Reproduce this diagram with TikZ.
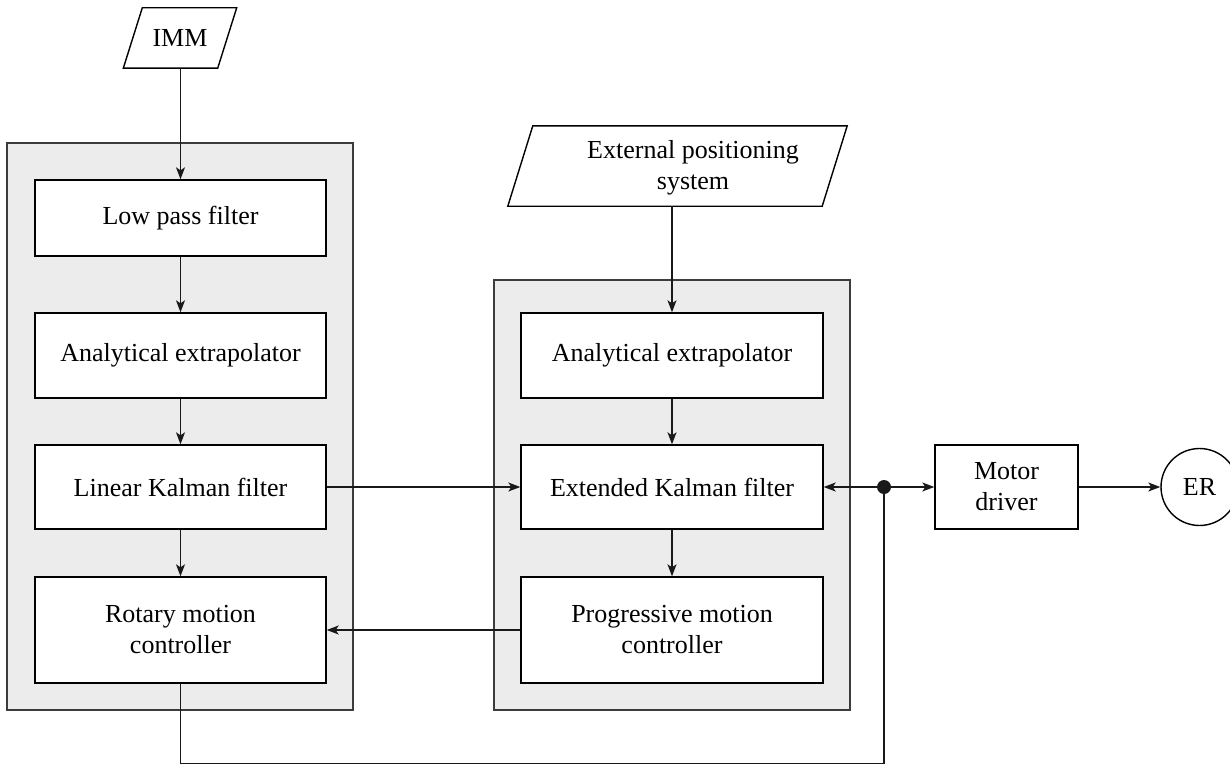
\documentclass[tikz,border=0pt]{standalone}
\usepackage{fontspec}
\setmainfont{Liberation Serif}
\usetikzlibrary{arrows.meta,calc}
\definecolor{panelfill}{HTML}{EBECEB}
\definecolor{paneldraw}{HTML}{3C3C3C}
\begin{document}
\begin{tikzpicture}[x=1pt,y=-1pt,
  every node/.style={font=\fontsize{26}{31}\selectfont},
  panel/.style={draw=paneldraw, fill=panelfill, line width=1.6pt, inner sep=0pt},
  blk/.style={draw=black, fill=white, line width=1.4pt, align=center, inner sep=0pt},
  io/.style={inner sep=0pt, align=center},
  conn/.style={line width=1.3pt, draw=black!90},
  arr/.style={conn, -{Stealth[length=12pt,width=9pt,inset=3pt]}},
  ]
\useasboundingbox (0,0) rectangle (1230,765);
% panels
\node[panel, minimum width=346pt, minimum height=567pt] (p1) at (180,426.5) {};
\node[panel, minimum width=356pt, minimum height=430pt] (p2) at (672,495) {};
% inputs
\node[io, minimum width=94pt, minimum height=60pt] (imm) at (180,38) {IMM};
\draw[line width=1.4pt] ([xshift=-9.5pt]imm.south west) -- ([xshift=-9.5pt]imm.south east)
  -- ([xshift=9.5pt]imm.north east) -- ([xshift=9.5pt]imm.north west) -- cycle;
\node[io, minimum width=314pt, minimum height=80pt,
  label={[xshift=15.5pt, yshift=-2pt, align=center, font=\fontsize{26}{31}\selectfont]center:External positioning\\system}]
  (eps) at (677.5,166) {};
\draw[line width=1.4pt] ([xshift=-12.5pt]eps.south west) -- ([xshift=-12.5pt]eps.south east)
  -- ([xshift=12.5pt]eps.north east) -- ([xshift=12.5pt]eps.north west) -- cycle;
% left column
\node[blk, minimum width=291pt, minimum height=76pt] (lpf) at (180.5,218) {Low pass filter};
\node[blk, minimum width=291pt, minimum height=85pt] (ae1) at (180.5,355.5) {Analytical extrapolator};
\node[blk, minimum width=291pt, minimum height=84pt] (lkf) at (180.5,487) {Linear Kalman filter};
\node[blk, minimum width=291pt, minimum height=106pt] (rmc) at (180.5,630) {Rotary motion\\controller};
% right column
\node[blk, minimum width=302pt, minimum height=85pt] (ae2) at (672,355.5) {Analytical extrapolator};
\node[blk, minimum width=302pt, minimum height=84pt] (ekf) at (672,487) {Extended Kalman filter};
\node[blk, minimum width=302pt, minimum height=106pt] (pmc) at (672,630) {Progressive motion\\controller};
% right part
\node[blk, minimum width=143pt, minimum height=84pt] (md) at (1006.5,487) {Motor\\driver};
\node[draw=black, line width=1.4pt, circle, minimum size=77pt, inner sep=0pt] (er) at (1199.5,487) {ER};
\node[circle, fill=black!90, minimum size=14pt, inner sep=0pt] (dot) at (884,487) {};
% connectors
\draw[arr] (imm.south -| lpf.north) -- (lpf.north);
\draw[arr] (lpf) -- (ae1);
\draw[arr] (ae1) -- (lkf);
\draw[arr] (lkf) -- (rmc);
\draw[arr] (eps.south -| ae2.north) -- (ae2.north);
\draw[arr] (ae2) -- (ekf);
\draw[arr] (ekf) -- (pmc);
\draw[arr] (lkf.east) -- (ekf.west);
\draw[arr] (pmc.west) -- (rmc.east);
\draw[arr] (dot) -- (ekf.east);
\draw[arr] (dot) -- (md.west);
\draw[arr] (md.east) -- (er.west);
\draw[conn] (rmc.south) -- ++(0,80) -| (dot);
\end{tikzpicture}
\end{document}
